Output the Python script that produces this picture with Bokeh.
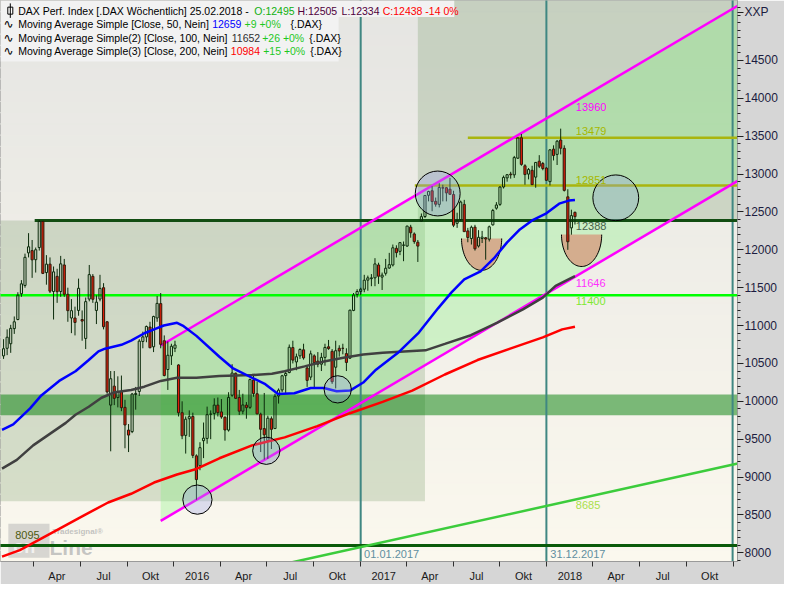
import numpy as np
import pandas as pd
from bokeh.plotting import figure
from bokeh.models import Range1d, FixedTicker, ColumnDataSource
from bokeh.core.properties import value
from bokeh.embed import file_html
from bokeh.resources import INLINE

DAY = 86400000.0


def ms(d):
    return pd.Timestamp(d).value / 1e6


# ------------------------------------------------------------------ data
week_labels = pd.date_range("2015-02-01", "2018-02-25", freq="7D")

opens_2015 = [10600, 10700, 10760, 10960, 11080, 11420, 11530, 11960, 11990, 11870,
              12030, 12375, 11700, 11811, 11450, 11650, 11450, 11800, 11413, 11100,
              11100, 11200, 11080, 10830, 11350, 11650, 11200, 11350, 11500, 11050,
              9950, 10200, 10050, 10130, 9920, 9620, 9600, 10090, 10130, 10790,
              10850, 10980, 10720, 11100, 11290, 10800, 10420, 10600, 10700]
highs_2015 = [10820, 10950, 11010, 11120, 11440, 11600, 11950, 12220, 12130, 12030,
              12390, 12380, 11930, 11900, 11780, 11750, 11920, 11880, 11500, 11350,
              11250, 11620, 11200, 11370, 11800, 11680, 11400, 11670, 11560, 11060,
              10400, 10400, 10330, 10340, 10020, 9700, 10110, 10190, 10820, 10920,
              11000, 11050, 11130, 11390, 11430, 10870, 10790, 10760, 10800]
lows_2015 = [10560, 10610, 10640, 10890, 11070, 11380, 11500, 11900, 11630, 11700,
             11990, 11680, 11540, 11430, 11080, 11300, 11380, 11380, 11050, 10900,
             10870, 11130, 10800, 10690, 11320, 11300, 11020, 11320, 10950, 10100,
             9340, 9950, 9920, 9870, 9380, 9330, 9580, 9890, 10070, 10700,
             10780, 10700, 10650, 11050, 10700, 10330, 10150, 10480, 10650]
closes_2015 = [10694, 10846, 10963, 11050, 11402, 11551, 11901, 12040, 11868, 12001,
               12375, 11689, 11811, 11454, 11709, 11447, 11815, 11413, 11197, 11197,
               11041, 11492, 11059, 11316, 11673, 11347, 11309, 11491, 10985, 10124,
               10298, 10039, 10124, 9916, 9688, 9554, 10096, 10104, 10795, 10850,
               10988, 10708, 11120, 11293, 10752, 10340, 10608, 10727, 10743]

opens_2016 = [10480, 9850, 9550, 9770, 9800, 9280, 9150, 9480, 9510, 9830,
              9840, 9950, 9860, 9790, 9620, 10080, 10370, 10050, 9870, 9950,
              9920, 10280, 10100, 9830, 9640, 9480, 9770, 9640, 10070, 10150,
              10340, 10380, 10710, 10520, 10600, 10680, 10440, 10320, 10600, 10530,
              10490, 10580, 10720, 10660, 10450, 10700, 10700, 10630, 10570, 11200,
              11410, 11450]
highs_2016 = [10490, 10000, 9800, 9880, 9850, 9300, 9460, 9720, 9930, 9880,
              10040, 10050, 10030, 9800, 10120, 10490, 10380, 10150, 10100, 9990,
              10300, 10340, 10260, 9850, 10110, 9810, 9800, 10100, 10170, 10350,
              10390, 10750, 10800, 10630, 10700, 10760, 10470, 10670, 10620, 10650,
              10640, 10760, 10810, 10690, 10800, 10740, 10760, 10700, 11210, 11430,
              11480, 11500]
lows_2016 = [9800, 9500, 9310, 9530, 9250, 8700, 9090, 9250, 9440, 9500,
             9760, 9800, 9770, 9480, 9600, 10060, 10030, 9820, 9830, 9770,
             9900, 10060, 9830, 9330, 9230, 9240, 9370, 9640, 9970, 10120,
             10110, 10370, 10500, 10410, 10560, 10550, 10190, 10280, 10180, 10450,
             10400, 10470, 10680, 10230, 10170, 10590, 10620, 10400, 10560, 11190,
             11370, 11400]
closes_2016 = [9849, 9545, 9764, 9798, 9286, 8967, 9388, 9513, 9824, 9831,
               9950, 9851, 9794, 9622, 10051, 10373, 10039, 9870, 9952, 9916,
               10287, 10103, 9834, 9631, 9557, 9777, 9630, 10066, 10147, 10337,
               10367, 10713, 10544, 10588, 10684, 10573, 10276, 10627, 10511, 10490,
               10580, 10711, 10696, 10259, 10668, 10665, 10699, 10513, 11203, 11404,
               11450, 11481]

opens_2017 = [11480, 11600, 11620, 11630, 11800, 11640, 11690, 11760, 11800, 12020,
              11980, 12060, 12050, 12300, 12210, 12100, 12380, 12440, 12720, 12780,
              12640, 12600, 12820, 12820, 12800, 12730, 12350, 12400, 12600, 12250,
              12150, 12300, 12050, 12150, 12160, 12140, 12330, 12550, 12600, 12830,
              12950, 13000, 12990, 13210, 13480, 13110, 13000, 13050, 12960, 13170,
              13140, 13080]
highs_2017 = [11670, 11660, 11680, 11890, 11830, 11700, 11880, 11960, 12070, 12060,
              12100, 12110, 12320, 12330, 12230, 12130, 12480, 12720, 12780, 12840,
              12690, 12880, 12860, 12830, 12950, 12780, 12490, 12650, 12660, 12290,
              12320, 12330, 12260, 12250, 12170, 12320, 12540, 12630, 12840, 12980,
              13000, 13030, 13240, 13480, 13530, 13130, 13080, 13110, 13160, 13250,
              13160, 13090]
lows_2017 = [11440, 11460, 11520, 11520, 11550, 11470, 11660, 11750, 11780, 11900,
             11930, 11850, 12040, 12160, 12080, 11840, 12370, 12420, 12640, 12510,
             12570, 12560, 12640, 12640, 12730, 12300, 12290, 12380, 12240, 12100,
             12070, 11990, 12030, 12090, 11870, 12110, 12320, 12530, 12580, 12810,
             12900, 12940, 12950, 13200, 13110, 12860, 12930, 12860, 12820, 13080,
             13050, 12910]
closes_2017 = [11599, 11630, 11630, 11814, 11651, 11666, 11757, 11804, 12027, 11963,
               12095, 12064, 12313, 12225, 12109, 12049, 12438, 12717, 12770, 12638,
               12602, 12823, 12815, 12752, 12733, 12325, 12389, 12631, 12240, 12163,
               12298, 12014, 12165, 12168, 12143, 12304, 12519, 12592, 12829, 12956,
               12992, 12991, 13218, 13479, 13128, 12994, 13060, 12861, 13154, 13104,
               13073, 12918]

opens_2018 = [12900, 13330, 13260, 13450, 13340, 12700, 12290, 12495]
highs_2018 = [13330, 13380, 13450, 13600, 13380, 12800, 12530, 12505]
lows_2018 = [12850, 13180, 13120, 13260, 12770, 12000, 12200, 12334]
closes_2018 = [13320, 13245, 13434, 13341, 12785, 12107, 12452, 12438]

opens = opens_2015 + opens_2016 + opens_2017 + opens_2018
highs = highs_2015 + highs_2016 + highs_2017 + highs_2018
lows = lows_2015 + lows_2016 + lows_2017 + lows_2018
closes = closes_2015 + closes_2016 + closes_2017 + closes_2018

# moving averages
ma50_dates = ["2015-01-29", "2015-02-20", "2015-03-25", "2015-04-16", "2015-05-21", "2015-06-22",
              "2015-07-18", "2015-08-06", "2015-08-19", "2015-09-20", "2015-10-09", "2015-11-04",
              "2015-11-23", "2015-12-12", "2016-01-07", "2016-01-20", "2016-02-14", "2016-03-30",
              "2016-04-25", "2016-06-02", "2016-06-28", "2016-07-23", "2016-08-24", "2016-09-25",
              "2016-10-21", "2016-11-15", "2016-12-11", "2017-01-06", "2017-01-31", "2017-03-17",
              "2017-04-25", "2017-06-02", "2017-06-28", "2017-07-23", "2017-08-24", "2017-09-19",
              "2017-10-15", "2017-11-09", "2017-12-05", "2017-12-31", "2018-01-25", "2018-02-13",
              "2018-02-25"]
ma50_vals = [9622, 9695, 9907, 10078, 10269, 10397, 10545, 10660, 10695, 10746, 10801, 10899,
             10950, 11001, 11036, 10992, 10864, 10589, 10439, 10311, 10226, 10098, 10107, 10175,
             10175, 10133, 10142, 10248, 10417, 10652, 10908, 11231, 11439, 11610, 11716, 11886,
             12099, 12269, 12397, 12482, 12610, 12650, 12659]

ma100_dates = ["2015-01-29", "2015-02-27", "2015-03-31", "2015-05-02", "2015-06-03", "2015-06-22",
               "2015-07-18", "2015-08-12", "2015-09-07", "2015-10-09", "2015-11-04", "2015-12-06",
               "2016-01-07", "2016-02-14", "2016-03-30", "2016-06-02", "2016-07-11", "2016-08-05",
               "2016-09-13", "2016-10-21", "2016-11-28", "2017-01-06", "2017-02-13", "2017-05-08",
               "2017-06-15", "2017-08-05", "2017-09-25", "2017-11-15", "2017-12-24", "2018-01-18",
               "2018-02-25"]
ma100_vals = [9111, 9226, 9418, 9567, 9715, 9822, 9928, 10047, 10120, 10149, 10193, 10269,
              10311, 10311, 10333, 10346, 10363, 10397, 10461, 10525, 10576, 10618, 10640, 10673,
              10758, 10873, 11036, 11214, 11368, 11525, 11652]

ma200_dates = ["2015-01-29", "2015-03-05", "2015-05-02", "2015-07-05", "2015-08-25", "2015-10-09",
               "2015-11-23", "2016-01-07", "2016-02-14", "2016-03-30", "2016-06-02", "2016-08-05",
               "2016-10-08", "2016-12-11", "2017-02-13", "2017-04-12", "2017-06-15", "2017-08-18",
               "2017-10-21", "2017-12-24", "2018-01-31", "2018-02-25"]
ma200_vals = [7949, 8035, 8247, 8482, 8664, 8779, 8928, 9034, 9107, 9248, 9418, 9524,
              9673, 9843, 9992, 10142, 10354, 10545, 10695, 10844, 10950, 10984]

# drawn levels and objects
resist_level = 12388
resist_start = "2015-04-03"
green_level = 11400
bottom_level = 8095
olive_levels = [13479, 12851]
olive_starts = ["2017-07-30", "2017-04-17"]
band_low, band_high = 9815, 10090
channel_dates = ["2015-12-06", "2019-01-10"]
channel_upper = [10737, 15223]
channel_lower = [8421, 12910]
support_dates = ["2016-08-20", "2019-01-10"]
support_vals = [7875, 9178]
vline_dates = ["2017-01-01", "2017-12-31", "2018-12-31"]
vline_labels = ["01.01.2017", "31.12.2017"]
box1_dates = ["2014-12-01", "2017-05-07"]
box1_vals = [8680, 12388]
box2_dates = ["2017-04-23", "2019-03-01"]
box2_vals = [12388, 16000]
circle_dates = ["2016-02-16", "2016-06-30", "2016-11-17", "2017-06-01", "2018-05-16"]
circle_vals = [8702, 9347, 10158, 12744, 12687]
circle_diam = [30, 28, 28, 46, 47]
bowl_dates = ["2017-08-26", "2018-03-10"]
bowl_tops = [12150, 12201]

level_labels = ["13960", "13479", "12851", "12388", "11646", "11400", "8685", "8095"]
price_ticks = [8000, 8500, 9000, 9500, 10000, 10500, 11000, 11500, 12000, 12500,
               13000, 13500, 14000, 14500]

# ------------------------------------------------------------------ geometry
X0 = ms("2015-01-26")
X1 = ms("2019-01-09 14:00")
Y0, Y1 = 7885.0, 15292.0
W, H = 784, 584
FW, FH = 737, 565
REF_W, REF_H = 752.0, 580.0


def rx(px):
    return X0 + px / REF_W * (X1 - X0)


def ry(py):
    return Y1 - py / REF_H * (Y1 - Y0)


p = figure(width=W, height=H, x_range=Range1d(X0, X1), y_range=Range1d(Y0, Y1),
           y_axis_location="right", output_backend="svg", toolbar_location=None,
           min_border_left=0, min_border_top=0, min_border_right=W - FW,
           min_border_bottom=H - FH)
p.outline_line_color = "#8a8a8a"
p.border_fill_color = "#d6d6d6"
p.background_fill_color = "#efeee8"
p.xgrid.grid_line_color = None
p.ygrid.grid_line_color = None

# background gradient (light gray at top -> cream at bottom)
nb = 50
edges = np.linspace(Y0, Y1, nb + 1)
top_rgb = np.array([229, 229, 226])
bot_rgb = np.array([251, 248, 238])
cols = []
for i in range(nb):
    f = (i + 0.5) / nb
    cc = bot_rgb + (top_rgb - bot_rgb) * f
    cols.append("#%02x%02x%02x" % tuple(int(round(v)) for v in cc))
p.quad(left=X0 - 30 * DAY, right=X1 + 30 * DAY, bottom=edges[:-1], top=edges[1:],
       fill_color=cols, line_color=cols, line_width=1)

# translucent boxes
p.quad(left=[ms(box1_dates[0]), ms(box2_dates[0])], right=[ms(box1_dates[1]), ms(box2_dates[1])],
       bottom=[box1_vals[0], box2_vals[0]], top=[box1_vals[1], box2_vals[1]],
       fill_color="#4c7e3c", fill_alpha=0.2, line_color=None)

# channel fill
cx0, cx1 = ms(channel_dates[0]), ms(channel_dates[1])
p.patch([cx0, cx1, cx1, cx0], [channel_upper[0], channel_upper[1], channel_lower[1], channel_lower[0]],
        fill_color="#79f176", fill_alpha=0.3, line_color=None)

# horizontal band
p.quad(left=X0 - 30 * DAY, right=X1 + 30 * DAY, bottom=band_low, top=band_high,
       fill_color="#007d03", fill_alpha=0.5, line_color=None)

# watermark logo
p.quad(left=rx(8), right=rx(50), top=ry(541), bottom=ry(576), fill_color="#b4b4b4",
       fill_alpha=0.5, line_color=None)
p.text(x=[rx(13)], y=[ry(565)], text=["on"], text_color="#ffffff", text_alpha=0.7,
       text_font=value("Liberation Sans"), text_font_size=value("18px"), text_font_style="bold",
       text_baseline="middle")
p.text(x=[rx(50)], y=[ry(566)], text=["Line"], text_color="#b4b4b4", text_alpha=0.75,
       text_font=value("Liberation Sans"), text_font_size=value("21px"), text_font_style="bold",
       text_baseline="middle")
p.text(x=[rx(53)], y=[ry(549)], text=["Tradesignal®"], text_color="#b4b4b4", text_alpha=0.8,
       text_font=value("Liberation Sans"), text_font_size=value("8px"), text_font_style="bold",
       text_baseline="middle")

# vertical lines
vx = [ms(d) for d in vline_dates]
p.segment(x0=vx, y0=Y0 - 500, x1=vx, y1=Y1 + 500, line_color="#3f8782", line_width=2)

# horizontal lines
p.segment(x0=[ms(resist_start), X0 - 30 * DAY], y0=[resist_level, bottom_level],
          x1=[X1 + 30 * DAY, X1 + 30 * DAY], y1=[resist_level, bottom_level],
          line_color=["#124d12", "#0a5a0a"], line_width=3)
p.segment(x0=X0 - 30 * DAY, y0=green_level, x1=X1 + 30 * DAY, y1=green_level,
          line_color="#00ff00", line_width=2.5)
p.segment(x0=[ms(d) for d in olive_starts], y0=olive_levels, x1=X1 + 30 * DAY, y1=olive_levels,
          line_color="#a9b50f", line_width=2.5)
p.line([ms(d) for d in support_dates], support_vals, line_color="#3ccc3c", line_width=2.5)

# channel lines
p.line([cx0, cx1], channel_upper, line_color="#ff00ff", line_width=2.5)
p.line([cx0, cx1], channel_lower, line_color="#ff00ff", line_width=2.5)

# bowls
t = np.linspace(np.pi, 2 * np.pi, 48)
for bd, bt in zip(bowl_dates, bowl_tops):
    bx = ms(bd) + 39.4 * DAY * np.cos(t)
    by = bt + 421 * np.sin(t)
    p.patch(bx, by, fill_color="#d4ad8e", line_color=None)
    p.line(bx, by, line_color="#000000", line_width=1)

# candles
x = np.array([ms(d) for d in week_labels])
o = np.array(opens, float)
c = np.array(closes, float)
h = np.array(highs, float)
l = np.array(lows, float)
btop = np.maximum(o, c)
bbot = np.minimum(o, c)
up = c >= o
WICK = "#0b2a0b"
p.segment(x0=x, y0=btop, x1=x, y1=h, line_color=WICK, line_width=1)
p.segment(x0=x, y0=l, x1=x, y1=bbot, line_color=WICK, line_width=1)
BW = 4.2 * DAY
p.vbar(x=x[up], width=BW, top=btop[up], bottom=bbot[up], fill_alpha=0,
       line_color=WICK, line_width=1)
p.vbar(x=x[~up], width=BW, top=btop[~up], bottom=bbot[~up], fill_color="#dc1e0a",
       line_color="#2a1a0a", line_width=1)

# moving averages
p.line([ms(d) for d in ma200_dates], ma200_vals, line_color="#ff0000", line_width=2.5)
p.line([ms(d) for d in ma100_dates], ma100_vals, line_color="#404040", line_width=2.5)
p.line([ms(d) for d in ma50_dates], ma50_vals, line_color="#0000ff", line_width=2.5)

# circles
p.scatter([ms(d) for d in circle_dates], circle_vals, size=[d * 0.975 for d in circle_diam],
          marker="circle", fill_color="#969de7", fill_alpha=0.3, line_color="#000000",
          line_width=1)

# level labels
lab_src = ColumnDataSource(dict(
    x=[rx(587)] * 7 + [rx(15)],
    y=[ry(110), ry(135), ry(186), ry(233), ry(292), ry(311), ry(522), ry(553)],
    text=level_labels,
    color=["#ff00ff", "#a6b800", "#a6b800", "#46604a", "#ff30ff", "#7fe830", "#a8e04a", "#4e5a10"],
))
p.text(x="x", y="y", text="text", text_color="color", source=lab_src,
       text_font=value("Liberation Sans"), text_font_size=value("11px"), text_baseline="middle")
p.text(x=[rx(371), rx(561)], y=[ry(572), ry(572)], text=vline_labels, text_color="#5f8fa0",
       text_font=value("Liberation Sans"), text_font_size=value("11px"), text_baseline="middle")

# legend box
p.quad(left=[rx(0), rx(0)], right=[rx(463), rx(345)], top=[ry(0), ry(17)], bottom=[ry(17), ry(63)],
       fill_color="#f2f2f2", line_color=None)
leg_rows = [10.5, 24.5, 38.5, 52.5]
leg = dict(x=[], y=[], text=[], color=[])
segments = [
    (0, 18, "DAX Perf. Index [.DAX  Wöchentlich] 25.02.2018 -", "#000000"),
    (0, 259, "O:12495", "#10b010"),
    (0, 303, "H:12505", "#50003c"),
    (0, 348, "L:12334", "#50003c"),
    (0, 390, "C:12438 -14 0%", "#ff0000"),
    (1, 18, "Moving Average Simple [Close, 50, Nein]", "#000000"),
    (1, 216, "12659", "#0000ff"),
    (1, 249, "+9 +0%", "#1ec81e"),
    (1, 296, "{.DAX}", "#000000"),
    (2, 18, "Moving Average Simple(2) [Close, 100, Nein]", "#000000"),
    (2, 236, "11652", "#303030"),
    (2, 267, "+26 +0%", "#1ec81e"),
    (2, 315, "{.DAX}", "#000000"),
    (3, 18, "Moving Average Simple(3) [Close, 200, Nein]", "#000000"),
    (3, 235, "10984", "#ff0000"),
    (3, 268, "+15 +0%", "#1ec81e"),
    (3, 316, "{.DAX}", "#000000"),
]
for row, px, txt, col in segments:
    leg["x"].append(rx(px))
    leg["y"].append(ry(leg_rows[row]))
    leg["text"].append(txt)
    leg["color"].append(col)
p.text(x="x", y="y", text="text", text_color="color", source=ColumnDataSource(leg),
       text_font=value("Liberation Sans"), text_font_size=value("10.5px"), text_baseline="middle")
# icons
p.rect(x=[rx(10)], y=[ry(10.5)], width=5, height=7, width_units="screen", height_units="screen",
       fill_color="#ffffff", line_color="#000000", line_width=1)
p.segment(x0=[rx(10)], y0=[ry(3)], x1=[rx(10)], y1=[ry(18)], line_color="#000000", line_width=1)
p.text(x=[rx(3)] * 3, y=[ry(v) for v in leg_rows[1:]], text=["∿"] * 3, text_color="#000000",
       text_font=value("DejaVu Sans"), text_font_size=value("12px"), text_baseline="middle")

# ------------------------------------------------------------------ axes
q_starts = ["2015-04-01", "2015-07-01", "2015-10-01", "2016-01-01", "2016-04-01", "2016-07-01",
            "2016-10-01", "2017-01-01", "2017-04-01", "2017-07-01", "2017-10-01", "2018-01-01",
            "2018-04-01", "2018-07-01", "2018-10-01", "2019-01-01"]
q_names = {4: "Apr", 7: "Jul", 10: "Okt"}
q_ms = [ms(d) for d in q_starts]
mids, mid_labels = [], []
for a, b, d in zip(q_ms[:-1], q_ms[1:], q_starts[:-1]):
    ts = pd.Timestamp(d)
    mids.append((a + b) / 2.0)
    mid_labels.append(str(ts.year) if ts.month == 1 else q_names[ts.month])

xax = p.xaxis[0]
xax.ticker = FixedTicker(ticks=mids, minor_ticks=q_ms)
xax.major_label_overrides = {m: lab for m, lab in zip(mids, mid_labels)}
xax.major_tick_line_color = None
xax.major_tick_in = 0
xax.major_tick_out = 0
xax.minor_tick_in = 0
xax.minor_tick_out = 5
xax.minor_tick_line_color = "#303030"
xax.major_label_standoff = 3
xax.major_label_text_font = "Liberation Sans"
xax.major_label_text_font_size = "11px"
xax.major_label_text_color = "#1a1a1a"
xax.axis_line_color = "#9a9a9a"

unit_pos = ry(12)  # where the unit caption "XXP" sits on the price axis
yax = p.yaxis[0]
yax.ticker = FixedTicker(ticks=price_ticks + [unit_pos], minor_ticks=list(range(7900, 15301, 100)))
yax.major_label_overrides = {unit_pos: "XXP"}
yax.major_tick_in = 0
yax.major_tick_out = 6
yax.minor_tick_in = 0
yax.minor_tick_out = 3
yax.major_tick_line_color = "#202020"
yax.minor_tick_line_color = "#202020"
yax.major_label_standoff = 1
yax.major_label_text_font = "Liberation Sans"
yax.major_label_text_font_size = "12px"
yax.major_label_text_color = "#1c1c40"
yax.axis_line_color = "#9a9a9a"

open("out.html", "w").write(file_html(p, INLINE))
